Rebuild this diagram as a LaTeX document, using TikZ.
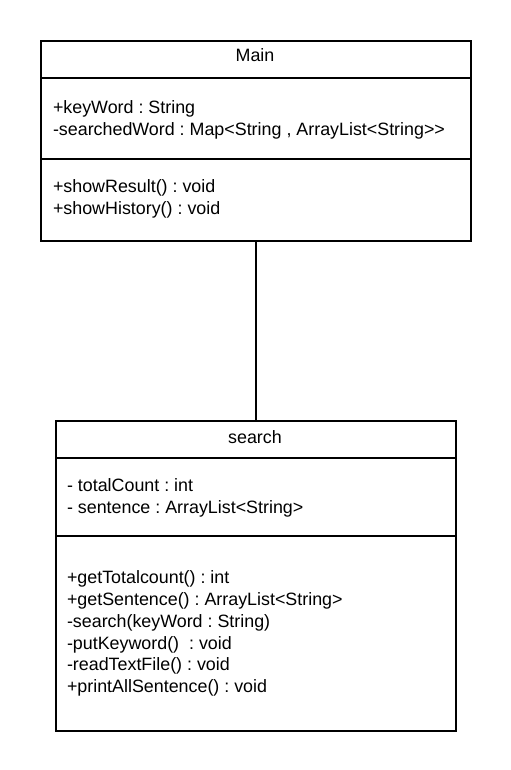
\documentclass[tikz,border=0pt]{standalone}
\usepackage{fontspec}
\setmainfont{Liberation Sans}
\frenchspacing
\begin{document}
\begin{tikzpicture}[x=0.75pt,y=-0.75pt,line width=1.5pt,
  umlbox/.style={draw=black,rectangle,inner sep=0pt,anchor=north west},
  title/.style={font=\fontsize{13.4pt}{16.4pt}\selectfont,inner sep=0pt,anchor=base},
  members/.style={font=\fontsize{13.4pt}{16.4pt}\selectfont,align=left,inner sep=0pt,anchor=north west}]
\useasboundingbox (0,0) rectangle (510,770);
% Main class
\node[umlbox,minimum width=322.5pt,minimum height=150pt] (main) at (40,40) {};
\draw (40,78) -- (470,78);
\draw (40,159) -- (470,159);
\node[title] (maintitle) at (255,62) {Main};
\node[members] (mainattr) at (52,100) {+keyWord : String\\-searchedWord : Map<String , ArrayList<String>{}>};
\node[members] (mainops) at (52,179) {+showResult() : void\\+showHistory() : void};
% search class
\node[umlbox,minimum width=300pt,minimum height=232.5pt] (search) at (55,420) {};
\draw (55,458) -- (455,458);
\draw (55,536) -- (455,536);
\node[title] (searchtitle) at (255,443) {search};
\node[members] (searchattr) at (66,478) {- totalCount : int\\- sentence : ArrayList<String>};
\node[members,font=\fontsize{13.4pt}{16.3pt}\selectfont] (searchops) at (66,570) {+getTotalcount() : int\\+getSentence() : ArrayList<String>\\-search(keyWord : String)\\-putKeyword()\ \ : void\\-readTextFile() : void\\+printAllSentence() : void};
% association
\draw (main.south) -- (search.north);
\end{tikzpicture}
\end{document}
